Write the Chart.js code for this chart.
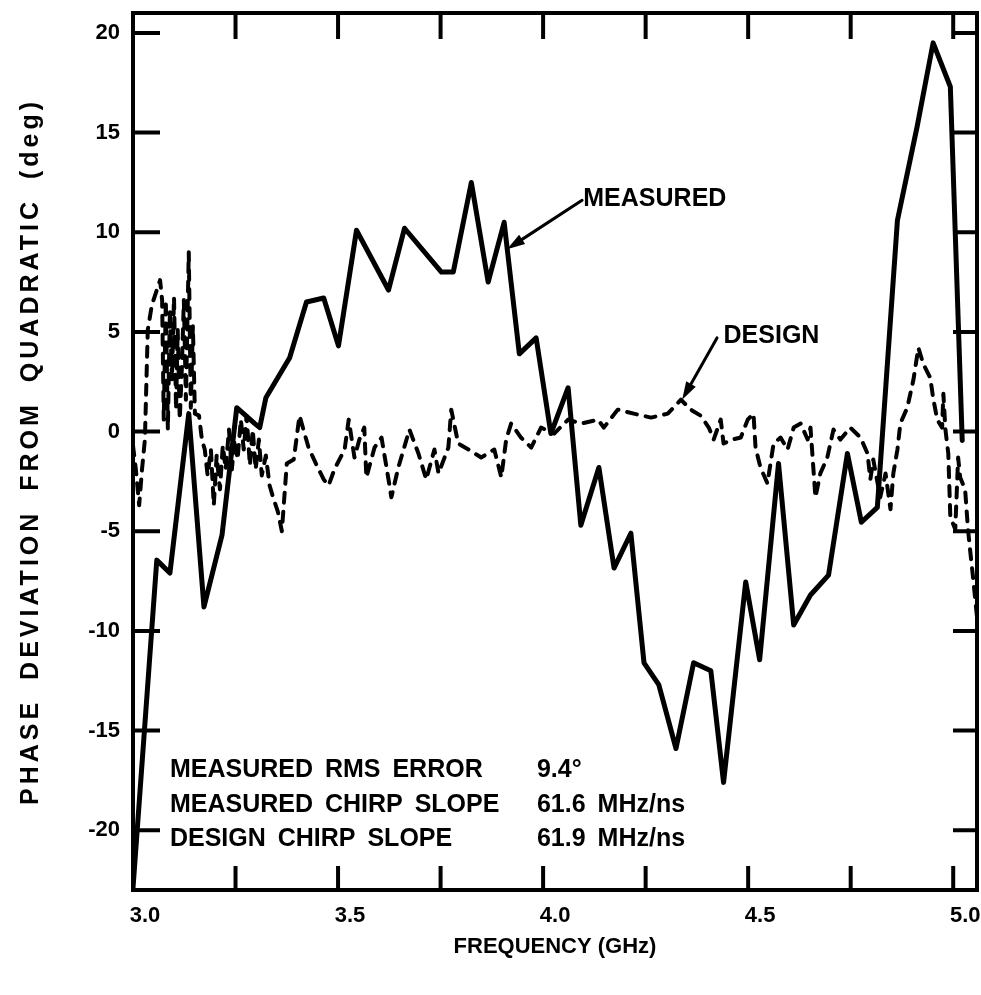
<!DOCTYPE html>
<html>
<head>
<meta charset="utf-8">
<script src="https://cdn.jsdelivr.net/npm/chart.js@4/dist/chart.umd.min.js"></script>
<style>
  html, body { margin: 0; padding: 0; background: #fff; }
  #wrap { width: 981px; height: 995px; }
</style>
</head>
<body>
<div id="wrap"><canvas id="c" width="981" height="995"></canvas></div>
<script>
// Measured phase deviation (deg) vs frequency (GHz)
const measuredFreq = [3.000,3.058,3.090,3.136,3.173,3.217,3.253,3.297,3.309,3.324,3.382,3.423,3.465,3.501,3.545,3.623,3.662,3.752,3.781,3.825,3.866,3.905,3.942,3.983,4.019,4.061,4.092,4.136,4.173,4.214,4.246,4.282,4.324,4.367,4.409,4.440,4.494,4.528,4.574,4.611,4.652,4.696,4.742,4.776,4.815,4.864,4.912,4.951,4.993,5.022];
const measuredPhase = [-22.9,-6.45,-7.1,0.9,-8.8,-5.2,1.2,0.4,0.2,1.7,3.7,6.5,6.7,4.3,10.1,7.1,10.2,8.0,8.0,12.5,7.5,10.5,3.9,4.7,-0.1,2.2,-4.7,-1.8,-6.85,-5.1,-11.6,-12.7,-15.9,-11.6,-12.0,-17.6,-7.55,-11.45,-1.6,-9.7,-8.2,-7.2,-1.1,-4.55,-3.8,10.6,15.3,19.5,17.3,-0.45];

// Design phase deviation (deg) vs frequency (GHz)
const designFreq = [3.000,3.007,3.015,3.022,3.029,3.036,3.046,3.058,3.066,3.071,3.075,3.080,3.085,3.090,3.095,3.100,3.105,3.109,3.114,3.119,3.124,3.129,3.136,3.141,3.146,3.151,3.161,3.168,3.175,3.182,3.190,3.197,3.204,3.212,3.219,3.226,3.234,3.241,3.248,3.255,3.263,3.270,3.277,3.285,3.292,3.299,3.307,3.314,3.324,3.333,3.343,3.353,3.363,3.375,3.392,3.406,3.428,3.448,3.465,3.477,3.491,3.516,3.526,3.540,3.552,3.564,3.569,3.589,3.606,3.623,3.630,3.647,3.674,3.696,3.715,3.735,3.745,3.769,3.776,3.793,3.818,3.849,3.881,3.898,3.910,3.922,3.946,3.971,3.995,4.027,4.061,4.092,4.134,4.148,4.182,4.221,4.263,4.304,4.336,4.360,4.384,4.404,4.416,4.433,4.440,4.462,4.482,4.499,4.513,4.518,4.530,4.547,4.562,4.579,4.596,4.611,4.628,4.645,4.652,4.664,4.676,4.693,4.708,4.725,4.749,4.774,4.791,4.798,4.805,4.822,4.835,4.847,4.854,4.864,4.871,4.888,4.903,4.915,4.927,4.944,4.951,4.961,4.973,4.976,4.981,4.988,4.993,5.005,5.012,5.017,5.029,5.036,5.041,5.049,5.058];
const designPhase = [-0.7,-1.9,-3.7,-1.9,-0.4,5.1,6.35,7.1,7.6,6.6,0.6,6.6,0.1,6.1,2.6,6.75,1.1,5.1,0.6,3.1,6.6,1.6,9.0,1.2,5.3,0.9,0.8,-0.4,-0.9,-2.2,-0.9,-3.7,-1.2,-2.9,-0.7,-1.9,0.1,-1.9,-0.4,-1.4,0.6,-0.9,0.8,-1.7,0.1,-1.9,-0.4,-2.2,-1.2,-2.7,-3.4,-4.0,-5.0,-1.6,-1.4,0.8,-0.8,-1.7,-2.4,-2.7,-1.9,-0.9,0.6,-1.3,-0.4,0.2,-2.3,-0.8,-0.3,-2.4,-3.3,-1.8,0.1,-1.1,-2.4,-0.9,-2.1,-0.8,1.1,-0.6,-0.9,-1.3,-0.9,-2.3,-0.4,0.4,-0.3,-0.8,0.2,-0.1,0.6,0.4,0.6,0.2,1.1,0.9,0.7,0.9,1.6,1.1,0.8,0.2,-0.4,0.6,-0.6,-0.4,-0.3,0.6,0.9,-0.8,-1.8,-2.6,-0.6,-0.3,-0.9,0.2,0.4,-0.4,0.2,-3.3,-2.1,-1.3,0.1,-0.4,0.2,-0.3,-1.1,-2.4,-1.4,-3.3,-2.1,-3.9,-2.1,-0.9,0.4,1.2,2.6,4.2,3.4,2.7,1.7,0.6,0.2,1.9,0.1,-1.1,-4.3,-4.9,-1.3,-2.3,-2.9,-4.9,-5.9,-7.45,-9.3];

// Axis ticks
const xLabelTicks = [3.0, 3.5, 4.0, 4.5, 5.0];
const xMarkTicks = [3.0, 3.25, 3.5, 3.75, 4.0, 4.25, 4.5, 4.75, 5.0];
const yTicks = [-20, -15, -10, -5, 0, 5, 10, 15, 20];
const yTitle = 'PHASE DEVIATION FROM QUADRATIC (deg)';

// Summary block (names, values, row positions in degrees)
const statNames = ['MEASURED RMS ERROR', 'MEASURED CHIRP SLOPE', 'DESIGN CHIRP SLOPE'];
const statValues = ['9.4°', '61.6 MHz/ns', '61.9 MHz/ns'];
const statRowY = [-17.0, -18.75, -20.45];
const statNameX = 3.09;
const statValueX = 3.985;

// Curve callouts: label, label anchor [GHz, deg], arrow tail and tip
const calloutText = ['MEASURED', 'DESIGN'];
const calloutAnchor = [[4.098, 11.65], [4.44, 4.8]];
const calloutTail = [[4.095, 11.6], [4.424, 4.7]];
const calloutTip = [[3.912, 9.15], [4.339, 1.6]];

const FONT = '"Liberation Sans", Arial, Helvetica, sans-serif';

const toXY = (xs, ys) => xs.map((v, i) => ({ x: v, y: ys[i] }));

function drawArrow(ctx, x0, y0, x1, y1) {
  const ang = Math.atan2(y1 - y0, x1 - x0);
  const len = 18, half = 5.5;
  const bx = x1 - len * Math.cos(ang), by = y1 - len * Math.sin(ang);
  ctx.beginPath();
  ctx.moveTo(x0, y0);
  ctx.lineTo(bx, by);
  ctx.stroke();
  ctx.beginPath();
  ctx.moveTo(x1, y1);
  ctx.lineTo(bx + half * Math.sin(ang), by - half * Math.cos(ang));
  ctx.lineTo(bx - half * Math.sin(ang), by + half * Math.cos(ang));
  ctx.closePath();
  ctx.fill();
}

const framePlugin = {
  id: 'frame',
  afterDatasetsDraw(chart) {
    const { ctx, chartArea: a, scales: { x, y } } = chart;
    ctx.save();
    ctx.strokeStyle = '#000';
    ctx.fillStyle = '#000';
    ctx.lineWidth = 4;
    ctx.lineCap = 'square';
    ctx.strokeRect(a.left, a.top, a.right - a.left, a.bottom - a.top);

    // inward tick marks on all four sides
    ctx.beginPath();
    xMarkTicks.forEach(v => {
      const px = x.getPixelForValue(v);
      ctx.moveTo(px, a.bottom); ctx.lineTo(px, a.bottom - 22);
      ctx.moveTo(px, a.top); ctx.lineTo(px, a.top + 24);
    });
    yTicks.forEach(v => {
      const py = y.getPixelForValue(v);
      ctx.moveTo(a.left, py); ctx.lineTo(a.left + 25, py);
      ctx.moveTo(a.right, py); ctx.lineTo(a.right - 22, py);
    });
    ctx.stroke();

    // vertical axis title, spaced out along the left edge
    ctx.save();
    ctx.font = 'bold 25px ' + FONT;
    ctx.textAlign = 'center';
    ctx.textBaseline = 'middle';
    try { ctx.letterSpacing = '4px'; ctx.wordSpacing = '8px'; } catch (e) {}
    ctx.translate(y.left + 31, (a.top + a.bottom) / 2);
    ctx.rotate(-Math.PI / 2);
    ctx.fillText(yTitle, 0, 0);
    ctx.restore();

    // summary block
    ctx.font = 'bold 25px ' + FONT;
    ctx.textBaseline = 'middle';
    ctx.textAlign = 'left';
    try { ctx.wordSpacing = '5px'; } catch (e) {}
    statNames.forEach((t, i) => {
      const py = y.getPixelForValue(statRowY[i]);
      ctx.fillText(t, x.getPixelForValue(statNameX), py);
      ctx.fillText(statValues[i], x.getPixelForValue(statValueX), py);
    });

    // callouts
    ctx.lineWidth = 3;
    ctx.lineCap = 'round';
    calloutText.forEach((t, i) => {
      ctx.fillText(t, x.getPixelForValue(calloutAnchor[i][0]), y.getPixelForValue(calloutAnchor[i][1]));
      drawArrow(ctx,
        x.getPixelForValue(calloutTail[i][0]), y.getPixelForValue(calloutTail[i][1]),
        x.getPixelForValue(calloutTip[i][0]), y.getPixelForValue(calloutTip[i][1]));
    });
    ctx.restore();
  }
};

new Chart(document.getElementById('c'), {
  type: 'line',
  data: {
    datasets: [
      {
        label: 'MEASURED',
        data: toXY(measuredFreq, measuredPhase),
        borderColor: '#000',
        borderWidth: 5,
        pointRadius: 0,
        tension: 0,
        borderJoinStyle: 'round',
        borderCapStyle: 'round'
      },
      {
        label: 'DESIGN',
        data: toXY(designFreq, designPhase),
        borderColor: '#000',
        borderWidth: 4,
        borderDash: [10, 9],
        pointRadius: 0,
        tension: 0,
        borderJoinStyle: 'round',
        borderCapStyle: 'round'
      }
    ]
  },
  options: {
    responsive: false,
    animation: false,
    devicePixelRatio: 1,
    layout: { padding: { top: 13, right: 4, left: 0, bottom: 0 } },
    plugins: { legend: { display: false }, tooltip: { enabled: false } },
    scales: {
      x: {
        type: 'linear',
        min: 3.0,
        max: 5.058,
        afterBuildTicks: s => { s.ticks = xLabelTicks.map(v => ({ value: v })); },
        afterFit: s => { s.height = 105; s.paddingLeft = 0; s.paddingRight = 0; },
        grid: { display: false, drawTicks: false },
        border: { display: false },
        ticks: {
          color: '#000',
          font: { family: FONT, size: 22, weight: 'bold' },
          padding: 13,
          labelOffset: 12,
          maxRotation: 0,
          autoSkip: false,
          callback: v => Number(v).toFixed(1)
        },
        title: {
          display: true,
          text: 'FREQUENCY (GHz)',
          color: '#000',
          font: { family: FONT, size: 22, weight: 'bold' },
          padding: { top: 0, bottom: 35 }
        }
      },
      y: {
        type: 'linear',
        min: -23,
        max: 21,
        afterBuildTicks: s => { s.ticks = yTicks.map(v => ({ value: v })); },
        afterFit: s => { s.width = 133; s.paddingTop = 0; s.paddingBottom = 0; },
        grid: { display: false, drawTicks: false },
        border: { display: false },
        ticks: {
          color: '#000',
          font: { family: FONT, size: 22, weight: 'bold' },
          padding: 13,
          callback: v => String(v)
        },
        title: { display: false }
      }
    }
  },
  plugins: [framePlugin]
});
</script>
</body>
</html>
